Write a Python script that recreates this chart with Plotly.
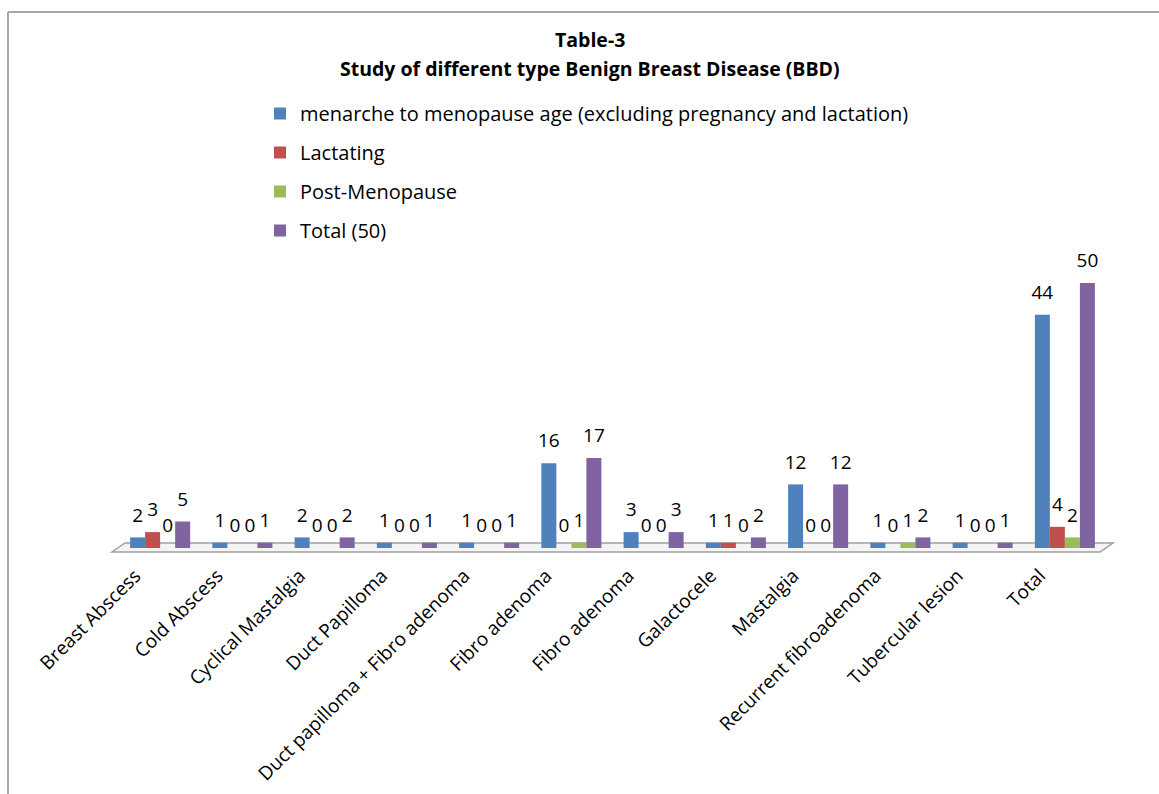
import plotly.graph_objects as go

categories = ["Breast Abscess", "Cold Abscess", "Cyclical Mastalgia", "Duct Papilloma",
              "Duct papilloma + Fibro adenoma", "Fibro adenoma", "Fibro adenoma",
              "Galactocele", "Mastalgia", "Recurrent fibroadenoma", "Tubercular lesion", "Total"]
menarche = [2, 1, 2, 1, 1, 16, 3, 1, 12, 1, 1, 44]
lactating = [3, 0, 0, 0, 0, 0, 0, 1, 0, 0, 0, 4]
post_menopause = [0, 0, 0, 0, 0, 1, 0, 0, 0, 1, 0, 2]
total = [5, 1, 2, 1, 1, 17, 3, 2, 12, 2, 1, 50]

series_names = ["menarche to menopause age (excluding pregnancy and lactation)",
                "Lactating", "Post-Menopause", "Total (50)"]
series_values = [menarche, lactating, post_menopause, total]
colors = ["#4F81BD", "#C0504D", "#9BBB59", "#8064A2"]

W, H = 1159, 794
PL, PR, PT, PB = 119, 1106, 256, 548


def px(x):
    return (x - PL) / (PR - PL)


def py(y):
    return (PB - y) / (PB - PT)


xpos = list(range(len(categories)))
FONT = "Open Sans"

fig = go.Figure()
for i, (name, vals, col) in enumerate(zip(series_names, series_values, colors)):
    fig.add_trace(go.Bar(
        x=xpos, y=vals, name=name, marker=dict(color=col, line=dict(width=0)),
        legendgroup=f"g{i}", offsetgroup=f"o{i}",
    ))
for i, vals in enumerate(series_values):
    fig.add_trace(go.Scatter(
        x=xpos, y=vals, mode="markers+text", text=[str(v) for v in vals],
        textposition="top center",
        marker=dict(size=16, color="rgba(0,0,0,0)", line=dict(width=0)),
        textfont=dict(family=FONT, size=19, color="black"),
        showlegend=False, hoverinfo="skip", cliponaxis=False, offsetgroup=f"o{i}",
    ))

ymax = (PB - PT) / 5.3

fig.update_layout(
    width=W, height=H,
    margin=dict(l=PL, r=W - PR, t=PT, b=H - PB, autoexpand=False),
    paper_bgcolor="white", plot_bgcolor="rgba(0,0,0,0)",
    barmode="group", bargap=0.27, bargroupgap=0.0,
    scattermode="group", scattergap=0.27,
    font=dict(family=FONT, color="black"),
    showlegend=True,
    legend=dict(x=px(260), y=py(94), xanchor="left", yanchor="top",
                font=dict(family=FONT, size=20, color="black"),
                traceorder="grouped", tracegroupgap=10, bgcolor="rgba(0,0,0,0)"),
    xaxis=dict(tickmode="array", tickvals=xpos, ticktext=categories,
               tickangle=-45, tickfont=dict(family=FONT, size=19, color="black"),
               showgrid=False, zeroline=False, showline=False, ticks="", automargin=False,
               range=[-0.5, len(categories) - 0.5], ticklabelshift=-25, ticklabelstandoff=12),
    yaxis=dict(range=[0, ymax], visible=False, showgrid=False, zeroline=False, automargin=False),
)

fig.add_annotation(text="<b>Table-3</b>", x=px(590), y=py(40), xref="paper", yref="paper",
                   showarrow=False, font=dict(family=FONT, size=19.5, color="black"),
                   xanchor="center", yanchor="middle")
fig.add_annotation(text="<b>Study of different type Benign Breast Disease (BBD)</b>",
                   x=px(590), y=py(68), xref="paper", yref="paper",
                   showarrow=False, font=dict(family=FONT, size=19.5, color="black"),
                   xanchor="center", yanchor="middle")

# floor tray
path = (f"M {px(112)},{py(552)} L {px(1100)},{py(552)} "
        f"L {px(1113)},{py(543)} L {px(125)},{py(543)} Z")
fig.add_shape(type="path", path=path, xref="paper", yref="paper",
              line=dict(color="#A0A0A0", width=1.5), fillcolor="#F4F4F4", layer="below")

# outer frame
fig.add_shape(type="line", xref="paper", yref="paper", x0=px(8), x1=px(8), y0=py(12), y1=py(800),
              line=dict(color="#A6A6A6", width=2))
fig.add_shape(type="line", xref="paper", yref="paper", x0=px(8), x1=px(1170), y0=py(12), y1=py(12),
              line=dict(color="#A6A6A6", width=2))

fig.write_html("out.html")
